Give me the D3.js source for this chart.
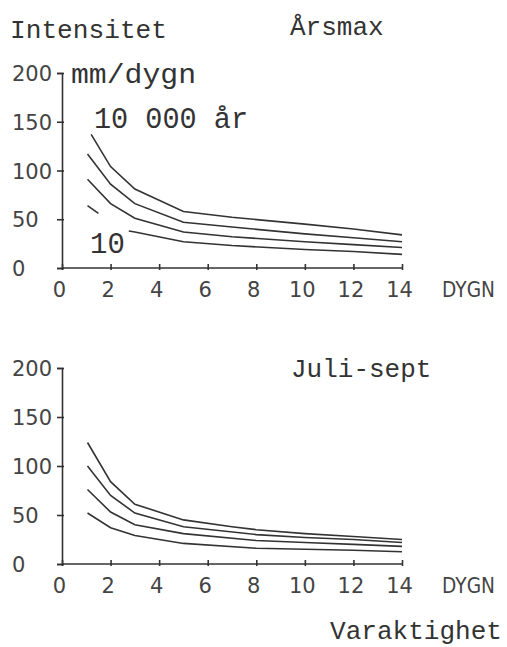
<!DOCTYPE html>
<html>
<head>
  <meta charset="utf-8">
  <style>
    body { margin: 0; background: #fff; }
    .mono { font-family: "Liberation Mono", "DejaVu Sans Mono", monospace; fill: #333; }
    .tick text, .plot-label { font-family: "DejaVu Sans", sans-serif; font-size: 21px; fill: #444; }
    .curve { fill: none; stroke: #333; stroke-width: 1.6; }
    .domain, .tick line { stroke: #333; stroke-width: 1.6; }
  </style>
</head>
<body>
  <script src="https://d3js.org/d3.v7.min.js"></script>
  <svg width="507" height="647"></svg>

  <script>
    // tick values
    var xTicks = [0, 2, 4, 6, 8, 10, 12, 14];
    var yTicks = [0, 50, 100, 150, 200];

    // Årsmax curves: [dygn, mm/dygn], highest return period first
    var arsmax10000 = [[1.2, 137], [2, 104], [3, 81], [5, 58], [7, 52], [10, 45], [12, 40], [14, 34]];
    var arsmax1000 = [[1.05, 117], [2, 86], [3, 66], [5, 47], [7, 42], [10, 35], [12, 31], [14, 27]];
    var arsmax100 = [[1.05, 91], [2, 66], [3, 51], [5, 37], [7, 32], [10, 27], [12, 24], [14, 21]];
    // 10-year curve is broken where the "10" label sits
    var arsmax10 = [[1.05, 64], [1.5, 56], [2, null], [2.75, 38], [3, 37], [5, 27], [7, 23], [10, 19], [12, 17], [14, 14]];

    // Juli-sept curves
    var juli10000 = [[1.05, 124], [2, 84], [3, 61], [5, 45], [7, 38], [8, 35], [10, 31], [12, 28], [14, 25]];
    var juli1000 = [[1.05, 100], [2, 70], [3, 52], [5, 38], [8, 30], [10, 27], [12, 25], [14, 22]];
    var juli100 = [[1.05, 76], [2, 53], [3, 40], [5, 31], [8, 24], [10, 22], [12, 20], [14, 18]];
    var juli10 = [[1.05, 52], [2, 37], [3, 29], [5, 21], [8, 16], [10, 15], [12, 14], [14, 12.5]];

    var svg = d3.select("svg");

    var x = d3.scaleLinear().domain([0, 14]).range([62, 402]);

    function panel(series, top, bottom, title, titleX, titleY) {
      var y = d3.scaleLinear().domain([0, 200]).range([bottom, top]);

      var yAxis = svg.append("g")
        .attr("transform", "translate(" + x(0) + ",0)")
        .call(d3.axisLeft(y).tickValues(yTicks).tickSize(5).tickPadding(0));
      yAxis.selectAll(".tick line").attr("x2", -5).attr("x1", 2);
      yAxis.selectAll(".tick text")
        .attr("text-anchor", "start")
        .attr("x", 12 - x(0))
        .attr("dy", "0.36em");

      var xAxis = svg.append("g")
        .attr("transform", "translate(0," + bottom + ")")
        .call(d3.axisBottom(x).tickValues(xTicks).tickSize(3).tickSizeOuter(0));
      xAxis.selectAll(".tick line").attr("y1", -4).attr("y2", 2);
      xAxis.selectAll(".tick text")
        .attr("y", 29).attr("dy", 0).attr("dx", -3);
      xAxis.select(".domain").attr("d", "M" + x(0) + ",0H" + x(14));

      svg.append("text")
        .attr("class", "plot-label")
        .attr("x", 442).attr("y", bottom + 29)
        .attr("textLength", 53).attr("lengthAdjust", "spacingAndGlyphs")
        .text("DYGN");

      var line = d3.line()
        .defined(function(d) { return d[1] !== null; })
        .x(function(d) { return x(d[0]); })
        .y(function(d) { return y(d[1]); });

      svg.selectAll(null)
        .data(series)
        .enter().append("path")
        .attr("class", "curve")
        .attr("d", line);

      svg.append("text")
        .attr("class", "mono")
        .attr("x", titleX).attr("y", titleY)
        .style("font-size", "26px")
        .text(title);

      return y;
    }

    panel([arsmax10000, arsmax1000, arsmax100, arsmax10], 73, 268, "Årsmax", 290, 35);
    panel([juli10000, juli1000, juli100, juli10], 368, 564, "Juli-sept", 291, 377);

    svg.append("text").attr("class", "mono")
      .attr("x", 10).attr("y", 38)
      .style("font-size", "26px")
      .attr("textLength", 157).attr("lengthAdjust", "spacingAndGlyphs")
      .text("Intensitet");

    svg.append("text").attr("class", "mono")
      .attr("x", 71).attr("y", 83)
      .style("font-size", "27px")
      .attr("textLength", 125).attr("lengthAdjust", "spacingAndGlyphs")
      .text("mm/dygn");

    svg.append("text").attr("class", "mono")
      .attr("x", 94).attr("y", 128)
      .style("font-size", "29px")
      .attr("textLength", 154).attr("lengthAdjust", "spacingAndGlyphs")
      .text("10 000 år");

    svg.append("text").attr("class", "mono")
      .attr("x", 90).attr("y", 253)
      .style("font-size", "29px")
      .text("10");

    svg.append("text").attr("class", "mono")
      .attr("x", 330).attr("y", 639)
      .style("font-size", "25px")
      .attr("textLength", 172).attr("lengthAdjust", "spacingAndGlyphs")
      .text("Varaktighet");
  </script>
</body>
</html>
